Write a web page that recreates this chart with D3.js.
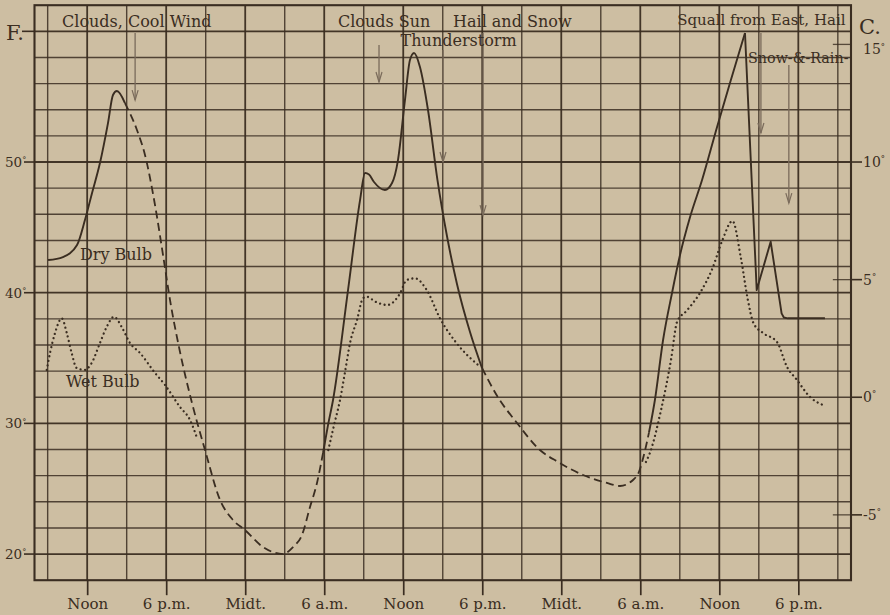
<!DOCTYPE html>
<html><head><meta charset="utf-8">
<script src="https://cdn.jsdelivr.net/npm/d3@7/dist/d3.min.js"></script>
<style>
html,body{margin:0;padding:0;background:#cdbea2;}
svg{display:block;}
text{font-family:"DejaVu Serif",serif;fill:#3a2d21;}
</style>
</head><body>
<svg id="chart" width="890" height="615"></svg>
<script>
// ---------- data (hours counted from midnight before day 1, °F) ----------
const hourTicks = [12, 18, 24, 30, 36, 42, 48, 54, 60, 66];
const hourLabels = ["Noon", "6 p.m.", "Midt.", "6 a.m.", "Noon", "6 p.m.", "Midt.", "6 a.m.", "Noon", "6 p.m."];
const fTicks = [50, 40, 30, 20];
const fLabels = ["50", "40", "30", "20"];
const cTicks = [15, 10, 5, 0, -5];
const cLabels = ["15", "10", "5", "0", "-5"];

// Dry bulb, solid parts
const dryDay1 = [[9.03,42.5],[10.16,42.73],[11.23,43.65],[11.83,45.56],[12.37,47.63],[12.97,49.92],[13.58,52.98],[13.96,55.13],[14.26,55.43],[14.87,54.51]];
const dryDay2 = [[29.91,27.74],[30.29,29.88],[30.67,31.79],[31.81,40.21],[32.72,47.09],[33.10,49.16],[33.40,49.05],[33.78,48.47],[34.61,47.86],[35.15,48.39],[35.60,50.15],[36.13,54.74],[36.51,57.80],[36.82,58.34],[37.27,57.27],[37.88,53.98],[38.60,48.62],[39.32,44.34],[40.08,40.67],[41.07,36.99],[41.98,34.24]];
const dryDay3 = [[54.66,29.3],[55.11,31.79],[55.73,36.38],[56.41,39.98],[57.02,42.9],[57.78,45.79],[58.69,48.62],[59.83,52.68],[60.81,56.04],[61.95,59.87]];
const drySquall = [[61.95,59.87],[62.84,40.2],[63.90,43.9],[64.73,38.42],[64.90,38.1],[65.2,38.04],[68.02,38.04]];
// Dry bulb, dashed (night) parts
const dryNight1 = [[14.87,54.51],[15.78,52.45],[16.39,50.54],[17.15,46.71],[17.76,42.88],[18.29,39.44],[19.05,35.46],[19.96,31.56],[20.95,27.96],[22.09,24.14],[23.07,22.61],[23.98,21.84],[25.35,20.54],[26.87,20.0],[27.63,20.54],[28.31,21.46],[28.92,23.6],[29.45,25.44],[29.91,27.74]];
const dryNight2 = [[41.98,34.24],[43.19,32.0],[44.64,30.03],[46.38,27.96],[47.75,27.05],[49.65,26.05],[51.47,25.44],[52.46,25.21],[53.45,25.67],[53.90,26.3],[54.28,27.6],[54.66,29.3]];
// Wet bulb (dotted)
const wetDay1 = [[8.93,34.09],[9.18,35.39],[9.56,36.92],[10.07,38.04],[10.45,36.92],[10.82,35.39],[11.20,34.24],[11.83,34.09],[12.34,34.62],[12.97,36.15],[13.48,37.38],[14.04,38.16],[14.62,37.38],[15.25,36.15],[16.01,35.39],[17.15,33.86],[17.91,32.94],[19.05,31.25],[19.81,30.26],[20.34,28.88]];
const wetDay2 = [[30.31,27.96],[30.75,29.88],[31.20,31.79],[31.58,33.93],[31.96,36.15],[32.49,37.91],[32.95,39.59],[33.22,39.69],[33.93,39.29],[34.79,39.06],[35.76,39.95],[36.26,40.97],[36.89,41.10],[37.78,40.21],[38.79,38.04],[40.06,36.13],[41.83,34.34]];
const wetDay3 = [[54.43,27.05],[54.73,27.74],[55.57,31.0],[56.33,34.85],[56.8,37.8],[57.5,38.6],[58.53,39.98],[59.49,41.89],[60.24,44.03],[61.0,45.49],[61.64,42.65],[62.17,39.44],[62.59,37.68],[63.32,36.92],[64.38,36.23],[65.14,34.32],[65.90,33.32],[66.89,32.02],[67.87,31.41]];

// Weather notes: [text, hour, °F of baseline]
const notes = [
  ["Clouds, Cool Wind", 10.09, 60.33],
  ["Clouds Sun", 31.04, 60.33],
  ["Hail and Snow", 39.78, 60.33],
  ["Thunderstorm", 35.80, 58.88],
  ["Squall from East, Hail", 56.8, 60.48],
  ["Snow-&-Rain-", 62.18, 57.57]
];
const curveLabels = [["Dry Bulb", 11.45, 42.5], ["Wet Bulb", 10.39, 32.79]];
// Arrows: [hour, °F top, °F tip]
const arrows = [[15.64, 59.87, 54.74],[34.16, 58.95, 56.12],[39.02, 58.57, 50.0],[42.06, 59.87, 45.94],[63.16, 59.87, 52.22],[65.28, 57.42, 46.86]];

// ---------- drawing ----------
const ink = "#3a2d21";
const svg = d3.select("#chart");
const x = d3.scaleLinear().domain([8, 70]).range([34.5, 851]);
const y = d3.scaleLinear().domain([18, 62]).range([580.2, 5.2]);
const yC = d3.scaleLinear().domain([(18-32)*5/9, (62-32)*5/9]).range([580.2, 5.2]);

// grid
const g = svg.append("g");
g.selectAll("line.v").data(d3.range(9, 70, 3)).join("line")
  .attr("x1", d => x(d)).attr("x2", d => x(d)).attr("y1", y(62)).attr("y2", y(18))
  .attr("stroke", ink).attr("stroke-opacity", d => d % 6 === 0 ? 0.95 : 0.85)
  .attr("stroke-width", d => d % 6 === 0 ? 1.8 : 1.4);
g.selectAll("line.h").data(d3.range(20, 61, 2)).join("line")
  .attr("x1", x(8)).attr("x2", x(70)).attr("y1", d => y(d)).attr("y2", d => y(d))
  .attr("stroke", ink).attr("stroke-opacity", d => d % 10 === 0 ? 0.95 : 0.85)
  .attr("stroke-width", d => d % 10 === 0 ? 1.8 : 1.4);
g.append("rect").attr("x", x(8)).attr("y", y(62)).attr("width", x(70)-x(8)).attr("height", y(18)-y(62))
  .attr("fill", "none").attr("stroke", ink).attr("stroke-width", 2.1);

// bottom axis
const xAxis = d3.axisBottom(x).tickValues(hourTicks).tickFormat((d, i) => hourLabels[i]).tickSize(15).tickPadding(3);
const ax = svg.append("g").attr("transform", `translate(0,${y(18)})`).call(xAxis);
ax.select(".domain").remove();
ax.selectAll(".tick line").attr("stroke", ink).attr("stroke-width", 1.7);
ax.selectAll(".tick text").attr("font-family", "DejaVu Serif").attr("font-size", 15).attr("fill", ink);

// left axis (°F)
function degLabel(sel, txt, size) {
  sel.append("tspan").text(txt);
  sel.append("tspan").text("°").attr("font-size", size*0.6).attr("dy", -size*0.35);
}
fTicks.forEach((t, i) => {
  svg.append("line").attr("x1", 24).attr("x2", x(8)).attr("y1", y(t)).attr("y2", y(t)).attr("stroke", ink).attr("stroke-width", 1.6);
  const tx = svg.append("text").attr("x", 5).attr("y", y(t) + 5).attr("font-size", 13.5);
  degLabel(tx, fLabels[i], 13.5);
});
svg.append("line").attr("x1", 22).attr("x2", x(8)).attr("y1", y(60)).attr("y2", y(60)).attr("stroke", ink).attr("stroke-width", 1.6);
svg.append("text").attr("x", 6).attr("y", 40).attr("font-size", 21).text("F.");

// right axis (°C)
cTicks.forEach((c, i) => {
  const f = c*9/5 + 32;
  if (Math.abs(f % 2) > 0.01) {
    svg.append("line").attr("x1", x(69) - 5).attr("x2", x(70)).attr("y1", yC(c)).attr("y2", yC(c)).attr("stroke", ink).attr("stroke-width", 1.3).attr("stroke-opacity", 0.8);
  }
  if (i > 0) svg.append("line").attr("x1", x(70)).attr("x2", x(70) + 11).attr("y1", yC(c)).attr("y2", yC(c)).attr("stroke", ink).attr("stroke-width", 1.6);
  const tx = svg.append("text").attr("x", x(70) + 12).attr("y", yC(c) + (i === 0 ? 10 : 5)).attr("font-size", 14);
  degLabel(tx, cLabels[i], 14);
});
svg.append("text").attr("x", 859).attr("y", 34).attr("font-size", 21).text("C.");

// curves
const smooth = d3.line().x(d => x(d[0])).y(d => y(d[1])).curve(d3.curveMonotoneX);
const straight = d3.line().x(d => x(d[0])).y(d => y(d[1])).curve(d3.curveLinear);
const lines = svg.append("g").attr("fill", "none").attr("stroke", ink);
[dryDay1, dryDay2, dryDay3].forEach(s => lines.append("path").attr("d", smooth(s)).attr("stroke-width", 1.9));
lines.append("path").attr("d", straight(drySquall)).attr("stroke-width", 1.9).attr("stroke-linejoin", "round");
[dryNight1, dryNight2].forEach(s => lines.append("path").attr("d", smooth(s)).attr("stroke-width", 1.8).attr("stroke-dasharray", "8,4.5"));
[wetDay1, wetDay2, wetDay3].forEach(s => lines.append("path").attr("d", smooth(s)).attr("stroke-width", 2.3)
  .attr("stroke-linecap", "round").attr("stroke-dasharray", "0.01,4.6"));

// arrows
const arrowInk = "#7a6b5b";
arrows.forEach(a => {
  const ax0 = x(a[0]), y1 = y(a[1]), y2 = y(a[2]);
  svg.append("line").attr("x1", ax0).attr("x2", ax0).attr("y1", y1).attr("y2", y2).attr("stroke", arrowInk).attr("stroke-width", 1.3);
  svg.append("path").attr("d", `M${ax0-3},${y2-10}L${ax0},${y2}L${ax0+3},${y2-10}`).attr("fill", "none").attr("stroke", arrowInk).attr("stroke-width", 1.2);
});

// notes
const noteSize = t => t.startsWith("Squall") ? 15 : (t.startsWith("Snow") ? 14.3 : 16);
svg.selectAll("text.note").data(notes.concat(curveLabels)).join("text")
  .attr("class", "note").attr("x", d => x(d[1])).attr("y", d => y(d[2]))
  .attr("font-size", d => noteSize(d[0])).text(d => d[0]);
</script>
</body></html>
